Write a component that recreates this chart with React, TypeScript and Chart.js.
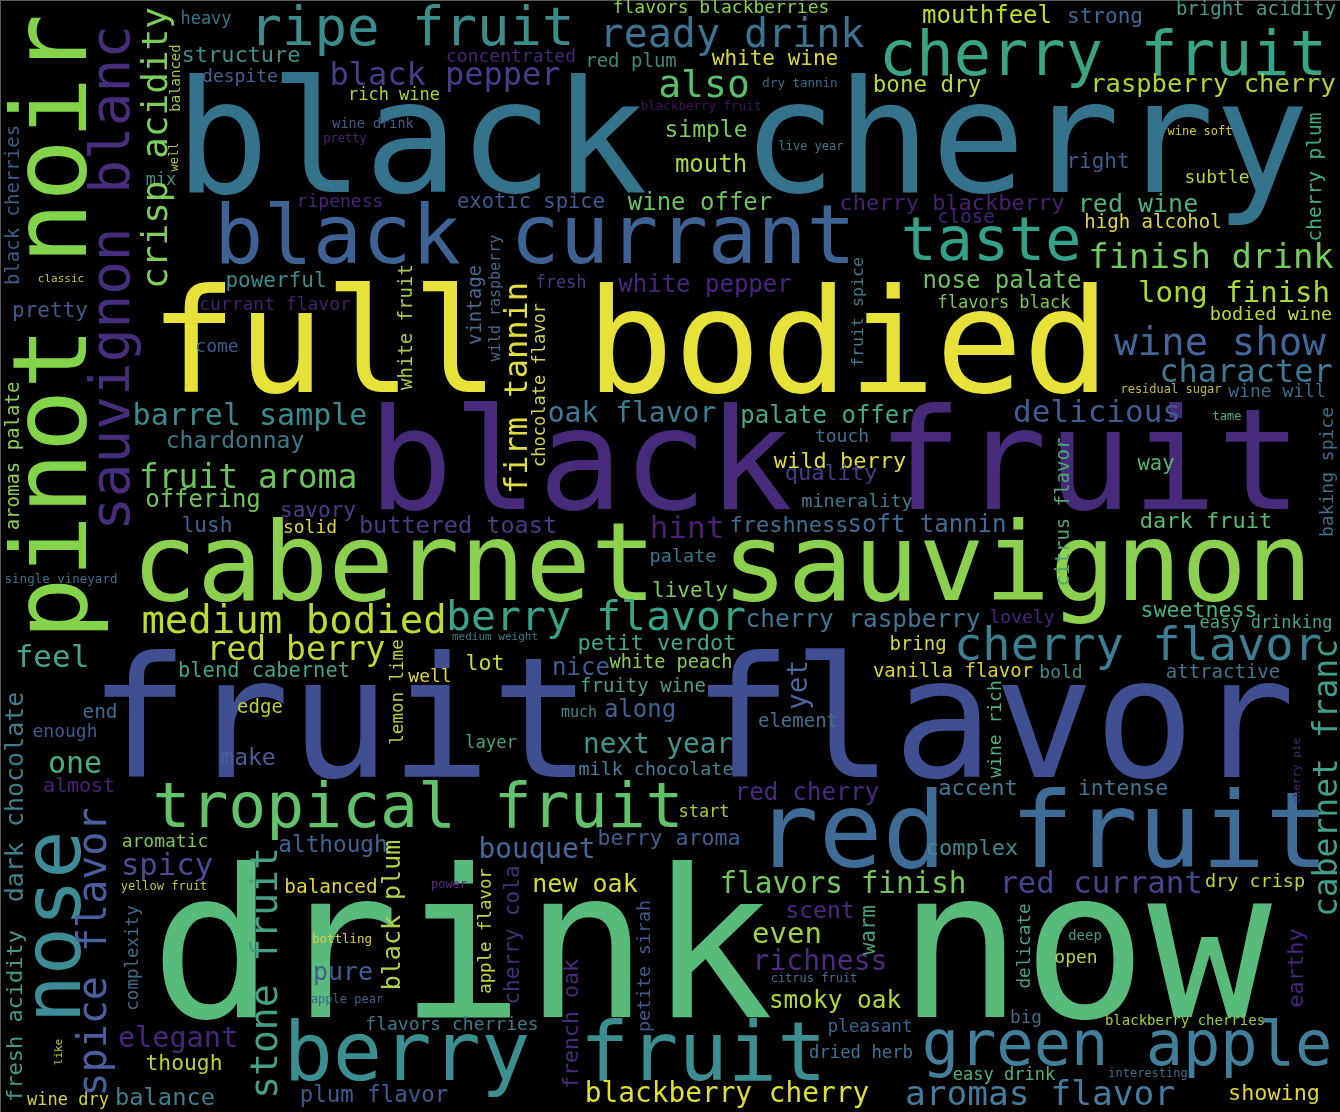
import { useEffect, useRef } from "react"
import Chart from "chart.js/auto"

// horizontal words: text, weight (font px), placement in cloud units (x centre, baseline y), colour
const flatWords = [
  "black cherry", "full bodied", "black fruit", "cabernet sauvignon", "fruit flavor", "drink now", "ripe fruit", "ready drink", "cherry fruit", "black currant",
  "taste", "black pepper", "also", "heavy", "flavors blackberries", "mouthfeel", "strong", "bright acidity", "structure", "concentrated",
  "red plum", "white wine", "despite", "rich wine", "dry tannin", "bone dry", "raspberry cherry", "blackberry fruit", "simple", "mouth",
  "live year", "right", "subtle", "wine soft", "mix", "classic", "pretty", "powerful", "currant flavor", "come",
  "ripeness", "wine drink", "pretty", "fresh", "white pepper", "exotic spice", "wine offer", "cherry blackberry", "close", "red wine",
  "high alcohol", "finish drink", "nose palate", "flavors black", "long finish", "bodied wine", "wine show", "character", "residual sugar", "wine will",
  "delicious", "tame", "barrel sample", "chardonnay", "fruit aroma", "offering", "savory", "lush", "solid", "buttered toast",
  "oak flavor", "palate offer", "touch", "wild berry", "quality", "minerality", "hint", "freshness", "soft tannin", "dark fruit",
  "way", "single vineyard", "medium bodied", "medium weight", "berry flavor", "palate", "lively", "petit verdot", "cherry raspberry", "lovely",
  "sweetness", "easy drinking", "bring", "cherry flavor", "vanilla flavor", "bold", "attractive", "feel", "red berry", "blend cabernet",
  "well", "lot", "nice", "white peach", "fruity wine", "much", "along", "element", "end", "enough",
  "edge", "layer", "make", "next year", "milk chocolate", "one", "almost", "tropical fruit", "start", "red cherry",
  "red fruit", "berry aroma", "although", "bouquet", "accent", "intense", "complex", "aromatic", "spicy", "yellow fruit",
  "balanced", "power", "bottling", "pure", "apple pear", "new oak", "flavors finish", "red currant", "dry crisp", "scent",
  "even", "richness", "citrus fruit", "smoky oak", "pleasant", "dried herb", "deep", "open", "big", "blackberry cherries",
  "green apple", "easy drink", "interesting", "aromas flavor", "showing", "berry fruit", "flavors cherries", "plum flavor", "blackberry cherry", "elegant",
  "though", "balance", "wine dry",
]
const flatWeights = [
  157, 145, 141, 109, 167, 207, 54, 40, 62, 82,
  60, 32, 38, 17, 18, 24, 21, 19, 22, 18,
  19, 21, 18, 17, 12.5, 22.5, 25.5, 12.5, 23, 24,
  12, 21, 18, 12, 17, 11, 21, 21, 18, 18,
  18, 13.5, 12, 17, 24, 20.5, 24, 22, 19, 25,
  19, 34, 24, 17, 29, 18.5, 39, 32, 12, 18,
  31, 12, 30, 23, 33, 24, 21, 21, 18, 23.5,
  28, 24, 18, 22, 22, 18.5, 31, 22, 24, 22,
  20.5, 12.5, 39, 11, 41.5, 18.5, 21, 22, 24.4, 18,
  21.6, 17, 19, 47, 19, 18, 19, 31, 33, 20.4,
  18, 21.6, 24, 18.6, 19, 15, 24, 19, 19.4, 18,
  19, 17.3, 23, 27.7, 18.4, 30, 20, 63, 17, 24,
  106, 21.6, 22.7, 27.8, 22, 21.4, 22, 18, 30.6, 12,
  19.4, 12, 12.5, 25, 12, 25, 29.3, 30.7, 18.5, 23,
  29, 28, 12, 24.4, 17.7, 17.3, 14, 18, 17.7, 14,
  62, 17, 12, 34.5, 21.8, 82, 18, 22.4, 27.8, 28.5,
  21.3, 23.7, 17,
]
const flatX = [
  742, 630, 835, 722, 692, 711, 412, 732, 1103, 535,
  991, 445, 704, 206, 721, 987, 1105, 1256, 241, 511,
  631, 775, 240, 394, 800, 927, 1213, 701, 706, 711,
  811, 1098, 1217, 1200, 161, 61, 50, 276, 275, 217,
  340, 373, 345, 561, 705, 531, 700, 952, 966, 1138,
  1153, 1211, 1002, 1004, 1234, 1271, 1220, 1246, 1171, 1277,
  1097, 1227, 250, 235, 248, 203, 318, 207, 310, 458,
  632, 827, 842, 840, 831, 857, 687, 789, 927, 1206,
  1156, 61, 294, 495, 596, 683, 690, 657, 863, 1022,
  1199, 1266, 918, 1138, 953, 1061, 1223, 52, 296, 264,
  430, 485, 581, 671, 643, 579, 640, 798, 100, 65,
  260, 491, 248, 658, 656, 75, 79, 418, 704, 807,
  1042, 669, 333, 537, 978, 1123, 972, 165, 167, 164,
  331, 449, 342, 343, 347, 585, 843, 1101, 1255, 820,
  787, 820, 814, 835, 870, 861, 1085, 1076, 1026, 1185,
  1127, 1004, 1148, 1040, 1274, 555, 452, 374, 727, 178,
  184, 165, 68,
]
const flatY = [
  192, 392, 509, 600, 777, 1017, 45, 47, 75, 263,
  260, 85, 97, 24, 13, 23, 23, 15, 62, 62,
  67, 65, 82, 100, 87, 92, 92, 110, 137, 172,
  150, 168, 183, 135, 185, 282, 317, 287, 310, 352,
  207, 128, 142, 288, 292, 208, 210, 210, 223, 212,
  228, 268, 288, 308, 302, 320, 355, 382, 393, 397,
  422, 420, 425, 448, 488, 507, 517, 532, 533, 533,
  422, 423, 442, 468, 480, 507, 538, 532, 532, 528,
  470, 583, 633, 640, 630, 562, 597, 650, 627, 623,
  617, 628, 650, 660, 677, 678, 678, 667, 660, 677,
  682, 670, 675, 668, 692, 717, 717, 727, 718, 737,
  713, 748, 765, 753, 775, 773, 792, 827, 817, 800,
  867, 845, 852, 858, 795, 795, 855, 847, 875, 890,
  893, 888, 943, 980, 1003, 892, 893, 893, 887, 918,
  943, 970, 982, 1008, 1032, 1058, 940, 963, 1023, 1025,
  1065, 1080, 1077, 1105, 1100, 1080, 1030, 1102, 1102, 1047,
  1070, 1105, 1105,
]
const flatColors = [
  "#35738d", "#e6e23a", "#472a7a", "#8bd04f", "#404f92", "#58bb7c", "#3b8c8c", "#3d7291", "#3aa585", "#3e6294",
  "#34a18b", "#443f8b", "#56c16a", "#3b758b", "#86d549", "#bddf26", "#3f6a95", "#4a9a8a", "#3f8f8b", "#482677",
  "#3b8b77", "#d8d839", "#4a6190", "#a6d63a", "#3d6d8b", "#b8d936", "#b2d43a", "#440f5f", "#79cc5c", "#a8d84a",
  "#3e7a8c", "#3e5c90", "#b6d43a", "#d4c83a", "#4a8e8c", "#c8c43a", "#43588f", "#3d8b8c", "#45206f", "#3e5b90",
  "#4a2378", "#3e5d8a", "#4b2378", "#433c84", "#4b2483", "#3e5a91", "#6bc25f", "#4b1f72", "#47237a", "#4fb07a",
  "#e0d64a", "#74cc5c", "#6ec160", "#7ec857", "#a8da37", "#bcd93b", "#41669a", "#3e7894", "#c8b93a", "#3d6c8c",
  "#3f5b93", "#4fae7e", "#3a8a8e", "#3b7c8c", "#6cc25e", "#73c35d", "#4d3b8b", "#3e6394", "#dfd53e", "#4a3b85",
  "#3f7a92", "#48a884", "#3e7392", "#e0d940", "#433d88", "#3e7b8c", "#4b1f73", "#3f6e90", "#416b96", "#5cba70",
  "#5ab572", "#3e6f8c", "#bddc33", "#3e7d8a", "#3aa288", "#3f7490", "#7cc85a", "#45a785", "#3e7693", "#4b2480",
  "#4cb080", "#47a684", "#d5d53f", "#3c7e92", "#dcd33c", "#3f8d8a", "#3f7690", "#47a28c", "#c0da36", "#46a385",
  "#e0d83e", "#c6d93a", "#3e5f93", "#8dcd57", "#4e9f8a", "#3f8a8a", "#3f6393", "#407190", "#3f6e8f", "#3f5a8e",
  "#b7cf40", "#4da07f", "#4f5c98", "#43938d", "#45829a", "#48ae83", "#4b2178", "#62c16a", "#a9cb45", "#4b2a81",
  "#3f6c97", "#3e6091", "#3f6494", "#44689a", "#3f7b92", "#3f7692", "#3f8a8e", "#7fc65f", "#4a4a95", "#b6c83e",
  "#e3d53a", "#5a2a8a", "#d8cf3a", "#3f5f93", "#3f5f93", "#d7dc39", "#76c45c", "#46448d", "#b8d63d", "#4b2a81",
  "#a0d046", "#502a83", "#3f6e90", "#b0d83b", "#3f6593", "#3f7692", "#4a9a8a", "#b4d340", "#3f6c8e", "#9cd33c",
  "#417f9b", "#55b473", "#3f6e90", "#457a9c", "#e1d43b", "#3b8f90", "#3d7b8c", "#3f5a93", "#e2dc38", "#4a2380",
  "#bcd13a", "#3f7f91", "#d8d33c",
]

// words turned 90 degrees (read bottom to top): baseline x, centre y
const upWords = [
  "pinot noir", "sauvignon blanc", "crisp acidity", "balanced", "well", "black cherries", "aromas palate", "dark chocolate", "fresh acidity", "nose",
  "spice flavor", "complexity", "stone fruit", "black plum", "lemon lime", "white fruit", "vintage", "wild raspberry", "firm tannin", "chocolate flavor",
  "fruit spice", "citrus flavor", "baking spice", "cherry plum", "yet", "wine rich", "cabernet franc", "cherry pie", "apple flavor", "cherry cola",
  "petite sirah", "french oak", "warm", "delicate", "earthy", "like",
]
const upWeights = [
  104, 56, 36, 14, 12, 19, 19, 25, 22, 80,
  40, 17.5, 38, 25, 17.5, 19, 19, 15, 32, 17,
  16.6, 19, 18, 19.5, 27.7, 18, 33, 11, 17.4, 21,
  18.3, 21.6, 20.8, 17.7, 22, 11,
]
const upX = [
  86, 129, 167, 180, 178, 19, 19, 23, 22, 80,
  106, 138, 277, 400, 403, 412, 481, 500, 527, 545,
  863, 1069, 1333, 1321, 807, 1001, 1337, 1300, 491, 519,
  650, 578, 875, 1030, 1303, 62,
]
const upY = [
  327, 278, 148, 78, 157, 205, 456, 797, 1016, 927,
  952, 958, 973, 915, 692, 327, 305, 298, 388, 385,
  312, 512, 472, 177, 685, 729, 778, 771, 931, 935,
  966, 1024, 930, 946, 968, 1052,
]
const upColors = [
  "#84d44b", "#472d7b", "#7ccd5b", "#a8c84a", "#a6c84a", "#3d5e8b", "#8ccd55", "#3f7f8f", "#45978c", "#3e8c95",
  "#4a5fa0", "#3e6d8d", "#46a086", "#aed34a", "#bcd03f", "#a8c94e", "#486a94", "#4a6a8e", "#e0dd3c", "#d4d35a",
  "#3e7a8c", "#4fa874", "#3e6f8c", "#3cb37e", "#4468a0", "#4fb080", "#3f9e8c", "#4a2a7a", "#c5d33d", "#4b2d7f",
  "#3f5a8f", "#4a2a7c", "#4aa17c", "#46a188", "#4b2380", "#c8c43a",
]

const FONT = '"DejaVu Sans Mono", monospace'

// draws each word at its point, as placed by the x / y scales
const wordPlugin = {
  id: "wordPlugin",
  afterDatasetsDraw(chart: any) {
    const ctx = chart.ctx
    chart.data.datasets.forEach((ds: any, di: number) => {
      const meta = chart.getDatasetMeta(di)
      meta.data.forEach((pt: any, i: number) => {
        ctx.save()
        ctx.font = `${ds.weights[i]}px ${FONT}`
        ctx.fillStyle = ds.colors[i]
        ctx.textAlign = "center"
        ctx.textBaseline = "alphabetic"
        ctx.translate(pt.x, pt.y)
        if (ds.upright) ctx.rotate(-Math.PI / 2)
        ctx.fillText(ds.words[i], 0, 0)
        ctx.restore()
      })
    })
  },
}

function WordCloud() {
  const chartRef = useRef<HTMLCanvasElement>(null)
  const chartInstance = useRef<Chart | null>(null)

  useEffect(() => {
    if (!chartRef.current) return
    if (chartInstance.current) chartInstance.current.destroy()

    chartInstance.current = new Chart(chartRef.current, {
      type: "scatter",
      data: {
        datasets: [
          {
            data: flatWords.map((_, i) => ({ x: flatX[i], y: flatY[i] })),
            words: flatWords,
            weights: flatWeights,
            colors: flatColors,
            upright: false,
            pointRadius: 0,
          } as any,
          {
            data: upWords.map((_, i) => ({ x: upX[i], y: upY[i] })),
            words: upWords,
            weights: upWeights,
            colors: upColors,
            upright: true,
            pointRadius: 0,
          } as any,
        ],
      },
      options: {
        animation: false,
        responsive: true,
        maintainAspectRatio: false,
        layout: { padding: 0 },
        events: [],
        scales: {
          x: { type: "linear", min: 0, max: 1340, display: false },
          y: { type: "linear", min: 0, max: 1112, reverse: true, display: false },
        },
        plugins: {
          legend: { display: false },
          tooltip: { enabled: false },
        },
      },
      plugins: [wordPlugin],
    })

    return () => {
      if (chartInstance.current) {
        chartInstance.current.destroy()
        chartInstance.current = null
      }
    }
  }, [])

  return <canvas ref={chartRef} />
}

export default function App() {
  return (
    <div
      style={{
        position: "fixed",
        left: 0,
        top: 0,
        width: 1340,
        height: 1112,
        background: "#000",
        boxShadow: "inset 1px 1px 0 #5a5a5a",
      }}
    >
      <WordCloud />
    </div>
  )
}
